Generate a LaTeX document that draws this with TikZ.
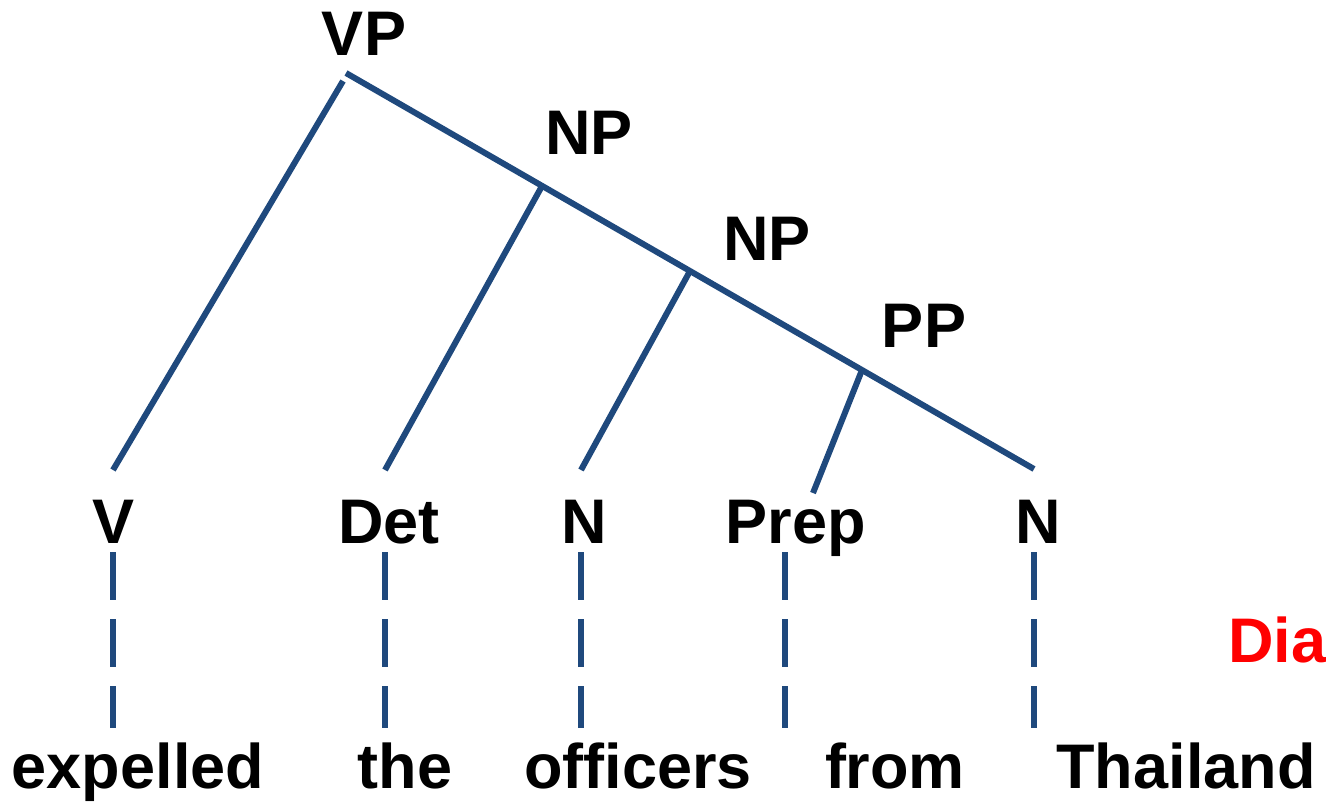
\documentclass[tikz,border=0pt]{standalone}
\usepackage{fontspec}
\setmainfont{Liberation Sans}
\usetikzlibrary{calc}
\definecolor{branch}{HTML}{1F497D}
\definecolor{tag}{HTML}{FF0000}
\begin{document}
\begin{tikzpicture}[x=1pt,y=-1pt,
  lbl/.style={inner sep=0pt,anchor=base,font=\bfseries\fontsize{63}{63}\selectfont},
  edge/.style={draw=branch,line width=6pt,line cap=butt},
  lexlink/.style={edge,dash pattern=on 48pt off 19pt}]
\useasboundingbox (0,0) rectangle (1326,807);

% phrase labels
\node[lbl] (vp)  at (364,55)  {VP};
\node[lbl] (np1) at (589,154) {NP};
\node[lbl] (np2) at (767,260) {NP};
\node[lbl] (pp)  at (924,347) {PP};

% category labels
\node[lbl] (v)    at (114,543)  {V};
\node[lbl] (det)  at (389,543)  {Det};
\node[lbl] (n1)   at (584,543)  {N};
\node[lbl] (prep) at (796,543)  {Prep};
\node[lbl] (n2)   at (1038,543) {N};

% words
\node[lbl] (w1) at (138,788)  {expelled};
\node[lbl] (w2) at (405,788)  {the};
\node[lbl] (w3) at (638,788)  {officers};
\node[lbl] (w4) at (895,788)  {from};
\node[lbl] (w5) at (1186,788) {Thailand};

\node[lbl,anchor=base west,text=tag] (dia) at (1228,662) {Dia};

% branch end points
\coordinate (top)    at (346,73);
\coordinate (topL)   at (343,81);
\coordinate (bottom) at (1034,469);
\coordinate (vT)     at (113,470);
\coordinate (detT)   at (385,470);
\coordinate (n1T)    at (581,470);
\coordinate (prepT)  at (813,493);
\coordinate (j1)     at ($(top)!0.285!(bottom)$);
\coordinate (j2)     at ($(top)!0.5!(bottom)$);
\coordinate (j3)     at ($(top)!0.75!(bottom)$);

% tree branches
\draw[edge] (top) -- (bottom);
\draw[edge] (topL) -- (vT);
\draw[edge] (j1) -- (detT);
\draw[edge] (j2) -- (n1T);
\draw[edge] (j3) -- (prepT);

% links from categories down to words
\foreach \x/\n in {113/a,385/b,581/c,785/d,1034/e}{
  \coordinate (d\n) at (\x,552);
  \coordinate (e\n) at (\x,728);
  \draw[lexlink] (d\n) -- (e\n);
}
\end{tikzpicture}
\end{document}
